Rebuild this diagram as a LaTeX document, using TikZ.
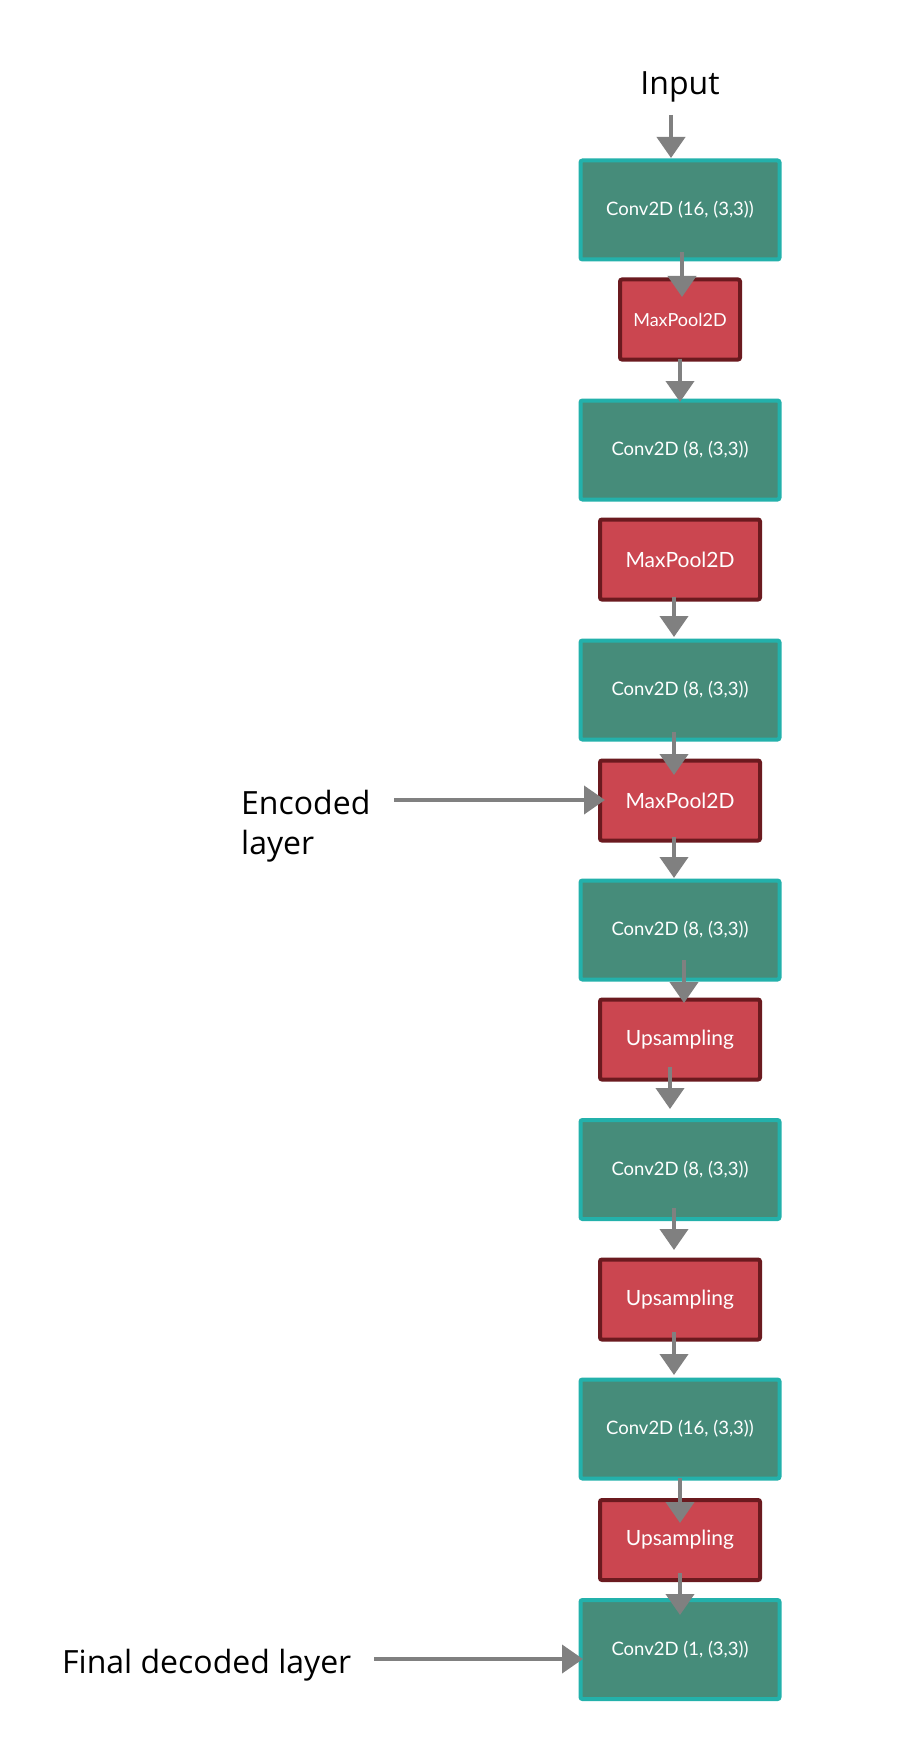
\documentclass[tikz,border=0pt]{standalone}
\usepackage{fontspec}
\setmainfont{Open Sans}
\newfontfamily\latofont{Lato}
\usetikzlibrary{arrows.meta}

\definecolor{convfill}{HTML}{468C7A}
\definecolor{convedge}{HTML}{23B1AB}
\definecolor{poolfill}{HTML}{CB4650}
\definecolor{pooledge}{HTML}{6B1A1F}
\definecolor{flowgray}{HTML}{808080}

\begin{document}
\begin{tikzpicture}[x=1pt, y=-1pt,
  conv/.style={draw=convedge, fill=convfill, line width=4pt, rounded corners=2pt,
    minimum width=199pt, minimum height=99pt, text=white,
    font=\latofont\fontsize{18.5}{22}\selectfont},
  pool/.style={draw=pooledge, fill=poolfill, line width=4pt, rounded corners=2pt,
    minimum width=160pt, minimum height=80pt, text=white,
    font=\latofont\fontsize{21}{25}\selectfont},
  flow/.style={draw=flowgray, line width=4pt, -{Triangle[width=28pt,length=21pt]}},
  lbl/.style={inner sep=0pt, align=left, font=\fontsize{32}{40}\selectfont}]
  \fill[white] (0,0) rectangle (900,1760);

  % encoder
  \node[lbl, anchor=base] (input) at (680,95) {Input};
  \node[conv] (c1) at (680,210) {Conv2D (16, (3,3))};
  \node[pool, minimum width=120pt, font=\latofont\fontsize{18}{22}\selectfont] (m1) at (680,319.5) {MaxPool2D};
  \node[conv] (c2) at (680,450) {Conv2D (8, (3,3))};
  \node[pool] (m2) at (680,559.5) {MaxPool2D};
  \node[conv] (c3) at (680,690) {Conv2D (8, (3,3))};
  \node[pool] (m3) at (680,800.5) {MaxPool2D};

  % decoder
  \node[conv] (c4) at (680,930) {Conv2D (8, (3,3))};
  \node[pool] (u1) at (680,1039.5) {Upsampling};
  \node[conv] (c5) at (680,1169.5) {Conv2D (8, (3,3))};
  \node[pool] (u2) at (680,1299.5) {Upsampling};
  \node[conv] (c6) at (680,1429) {Conv2D (16, (3,3))};
  \node[pool] (u3) at (680,1540) {Upsampling};
  \node[conv] (c7) at (680,1649.5) {Conv2D (1, (3,3))};

  % side labels
  \node[lbl, anchor=base west] (encoded) at (241,854) {Encoded\\layer};
  \node[lbl, anchor=base west] (final) at (62,1673) {Final decoded layer};
  \coordinate (encfrom) at (394,800);
  \coordinate (finalfrom) at (374,1659);

  % connections
  \draw[flow] ([shift={(-9,20)}]input.base) -- ([shift={(-9,-0.5)}]c1.north);
  \draw[flow] ([shift={(2,-9.5)}]c1.south) -- ([shift={(2,19.5)}]m1.north);
  \draw[flow] ([shift={(0,-3)}]m1.south) -- ([shift={(0,3.5)}]c2.north);
  \draw[flow] ([shift={(-6,-5)}]m2.south) -- ([shift={(-6,-1.5)}]c3.north);
  \draw[flow] ([shift={(-6,-9.5)}]c3.south) -- ([shift={(-6,16.5)}]m3.north);
  \draw[flow] ([shift={(-6,-5.5)}]m3.south) -- ([shift={(-6,-0.5)}]c4.north);
  \draw[flow] ([shift={(4,-21.5)}]c4.south) -- ([shift={(4,5.5)}]u1.north);
  \draw[flow] ([shift={(-10,-14.5)}]u1.south) -- ([shift={(-10,-9)}]c5.north);
  \draw[flow] ([shift={(-6,-13)}]c5.south) -- ([shift={(-6,-7.5)}]u2.north);
  \draw[flow] ([shift={(-6,-9.5)}]u2.south) -- ([shift={(-6,-2.5)}]c6.north);
  \draw[flow] ([shift={(0,-2.5)}]c6.south) -- ([shift={(0,25)}]u3.north);
  \draw[flow] ([shift={(0,-9)}]u3.south) -- ([shift={(0,17)}]c7.north);
  \draw[flow] (encfrom) -- ([shift={(7,-0.5)}]m3.west);
  \draw[flow] (finalfrom) -- ([shift={(4.5,9.5)}]c7.west);
\end{tikzpicture}
\end{document}
